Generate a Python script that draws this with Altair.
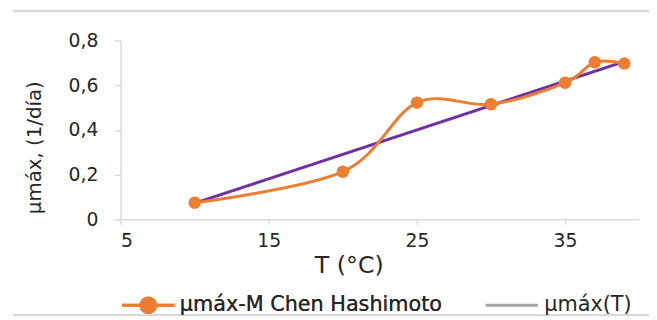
import altair as alt
import pandas as pd

# Data
temps = [10, 20, 25, 30, 35, 37, 39]
mu_model = [0.074, 0.213, 0.522, 0.515, 0.611, 0.703, 0.697]
fit_temps = [10, 39]
fit_mu = [0.072, 0.706]
series = ["μmáx-M Chen Hashimoto", "μmáx(T)"]
x_ticks = [5, 15, 25, 35]
y_ticks = [0, 0.2, 0.4, 0.6, 0.8]

ORANGE = "#ED7D31"
PURPLE = "#7030A0"
GRAY = "#A5A5A5"
AXIS = "#D9D9D9"
TEXT = "#262626"
FONT = "DejaVu Sans"

model_df = pd.DataFrame({"T": temps, "mu": mu_model, "series": series[0]})
fit_df = pd.DataFrame({"T": fit_temps, "mu": fit_mu, "series": series[1]})

xs = alt.Scale(domain=[5, 40], nice=False, zero=False)
ys = alt.Scale(domain=[0, 0.8], nice=False)

x_axis = alt.Axis(values=x_ticks, title="T (°C)", tickSize=5, labelPadding=8,
                  titleFontSize=24,
                  titleX=231, titleY=47, titleAlign="center", titleBaseline="middle")
y_axis = alt.Axis(values=y_ticks, title="μmáx, (1/día)", tickSize=6, labelPadding=17,
                  labelExpr="datum.value == 0 ? '0' : replace(format(datum.value, '.1f'), '.', ',')",
                  titleFontSize=20,
                  titleX=-87, titleY=108, titleAngle=270, titleAlign="center",
                  titleBaseline="middle")

line_path = "M-1,0L1,0"
dot_path = "M-1,0L1,0M-0.28,0A0.28,0.28,0,1,0,0.28,0A0.28,0.28,0,1,0,-0.28,0Z"

cscale = alt.Scale(domain=[series[0]], range=[ORANGE])
color = alt.Color(
    "series:N",
    scale=cscale,
    legend=alt.Legend(
        title=None, orient="none", legendX=0, legendY=240, direction="horizontal",
        labelFontSize=21, labelFont=FONT, labelColor=TEXT, labelLimit=400,
        symbolSize=2809, symbolStrokeWidth=3, labelOffset=4, symbolType=dot_path,
        symbolFillColor=ORANGE, symbolStrokeColor=ORANGE, symbolOpacity=1,
    ),
)
dash = alt.StrokeDash(
    "series:N",
    scale=alt.Scale(domain=[series[1]], range=[[1, 0]]),
    legend=alt.Legend(
        title=None, orient="none", legendX=368, legendY=240, direction="horizontal",
        labelFontSize=21, labelFont=FONT, labelColor=TEXT, labelLimit=400,
        symbolSize=2809, symbolStrokeWidth=3, labelOffset=5, symbolType=line_path,
        symbolStrokeColor=GRAY, symbolOpacity=1,
    ),
)

model_line = alt.Chart(model_df).mark_line(interpolate="cardinal", strokeWidth=3).encode(
    x=alt.X("T:Q", scale=xs, axis=x_axis),
    y=alt.Y("mu:Q", scale=ys, axis=y_axis),
    color=color,
)
model_pts = alt.Chart(model_df).mark_point(filled=True, size=160, opacity=1).encode(
    x=alt.X("T:Q", scale=xs),
    y=alt.Y("mu:Q", scale=ys),
    color=color,
)
fit_line = alt.Chart(fit_df).mark_line(strokeWidth=3, color=PURPLE).encode(
    x=alt.X("T:Q", scale=xs),
    y=alt.Y("mu:Q", scale=ys),
    strokeDash=dash,
)

frame_df = pd.DataFrame({"k": [0]})
frame_top = alt.Chart(frame_df).mark_rule(color=AXIS, strokeWidth=2.5).encode(
    x=alt.value(-109), x2=alt.value(535), y=alt.value(-30)
)
frame_bot = alt.Chart(frame_df).mark_rule(color=AXIS, strokeWidth=2.5).encode(
    x=alt.value(-109), x2=alt.value(535), y=alt.value(278)
)

chart = alt.layer(frame_top, frame_bot, fit_line, model_line, model_pts).properties(
    width=525, height=181,
    autosize=alt.AutoSizeParams(type="none"),
    padding={"left": 114, "top": 31, "right": 10, "bottom": 100},
).resolve_legend(color="independent", strokeDash="independent").configure_view(
    stroke=None
).configure_axis(
    grid=False, domainColor=AXIS, tickColor=AXIS, domainWidth=1.5, tickWidth=1.5,
    labelFont=FONT, titleFont=FONT, labelFontSize=19,
    labelColor=TEXT, titleColor=TEXT, titleFontWeight="normal",
)

chart.save("out.html", embed_options={"renderer": "svg", "actions": False})
